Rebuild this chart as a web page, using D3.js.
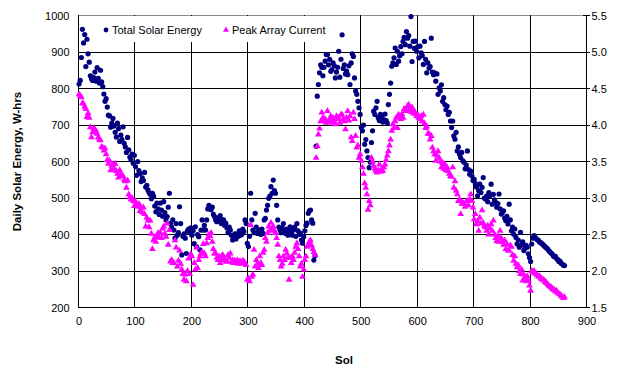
<!DOCTYPE html>
<html>
<head>
<meta charset="utf-8">
<script src="https://cdn.jsdelivr.net/npm/d3@7/dist/d3.min.js"></script>
<style>
  body { margin: 0; background: #fff; }
  svg text { font-family: Arial, "Liberation Sans", sans-serif; }
</style>
</head>
<body>
<svg width="617" height="366"></svg>
<script>
// readings every other sol
const sols = d3.range(1, 862, 2)

// Total Solar Energy, W-hrs (left axis)
const energy = [
  812, 822, 885, 962, 925, 948, 860, 935, 895, 872,
  835, 827, 822, 830, 845, 820, 857, 828, 815, 850,
  818, 805, 785, 765, 772, 749, 727, 725, 694, 705,
  718, 697, 680, 667, 705, 690, 655, 672, 660, 695,
  650, 640, 625, 666, 632, 612, 605, 620, 595, 617,
  586, 562, 600, 575, 567, 545, 555, 548, 570, 530,
  535, 522, 515, 510, 498, 513, 505, 478, 462, 486,
  470, 455, 486, 467, 450, 490, 460, 440, 449, 475,
  513, 430, 420, 440, 412, 390, 430, 398, 405, 476,
  430, 344, 395, 402, 390, 348, 410, 415, 405, 418,
  398, 410, 375, 421, 367, 400, 394, 358, 412, 440,
  412, 425, 412, 440, 470, 480, 472, 468, 475, 455,
  449, 440, 435, 445, 438, 452, 430, 440, 440, 425,
  431, 418, 405, 420, 412, 398, 385, 392, 402, 388,
  402, 395, 410, 398, 400, 415, 408, 440, 430, 376,
  367, 395, 513, 440, 412, 405, 458, 420, 403, 410,
  412, 400, 415, 403, 440, 444, 467, 480, 499, 505,
  531, 513, 549, 520, 513, 480, 440, 420, 412, 405,
  418, 430, 410, 403, 415, 398, 410, 421, 405, 398,
  412, 420, 395, 430, 410, 400, 403, 385, 376, 394,
  410, 425, 431, 458, 465, 467, 440, 431, 330, 342,
  642, 779, 811, 843, 865, 858, 835, 858, 875, 893,
  893, 865, 880, 847, 852, 870, 863, 829, 845, 858,
  902, 831, 880, 947, 855, 865, 840, 848, 838, 862,
  811, 870, 895, 888, 829, 793, 784, 765, 747, 729,
  693, 684, 700, 647, 660, 629, 611, 583, 598, 652,
  684, 738, 729, 747, 765, 720, 712, 729, 720, 708,
  715, 730, 712, 705, 756, 784, 815, 861, 870, 884,
  911, 866, 902, 875, 890, 915, 895, 929, 940, 920,
  956, 938, 945, 916, 997, 874, 929, 910, 930, 902,
  915, 884, 916, 898, 890, 866, 929, 880, 843, 870,
  856, 860, 938, 845, 838, 843, 820, 840, 784, 802,
  793, 810, 765, 775, 756, 742, 752, 729, 735, 711,
  693, 711, 670, 661, 680, 629, 640, 620, 611, 625,
  602, 598, 580, 590, 629, 578, 565, 574, 560, 548,
  551, 540, 530, 506, 520, 538, 515, 529, 556, 500,
  497, 505, 490, 515, 506, 538, 483, 510, 495, 488,
  475, 485, 511, 470, 456, 460, 465, 445, 438, 450,
  429, 483, 440, 410, 420, 401, 415, 392, 374, 385,
  365, 406, 372, 380, 356, 362, 370, 365, 347, 337,
  326, 374, 390, 397, 392, 389, 385, 384, 379, 378,
  375, 372, 369, 366, 363, 361, 356, 353, 349, 347,
  342, 339, 340, 334, 331, 326, 327, 321, 319, 316, 315
]

// Peak Array Current, A (right axis)
const current = [
  4.42, 4.40, 4.38, 4.30, 4.29, 4.25, 4.22, 4.11, 4.16, 4.10,
  3.97, 3.83, 3.90, 3.95, 3.94, 3.92, 3.88, 3.83, 3.80, 3.79,
  3.70, 3.69, 3.65, 3.68, 3.60, 3.52, 3.47, 3.51, 3.38, 3.44,
  3.46, 3.40, 3.47, 3.37, 3.33, 3.28, 3.38, 3.33, 3.30, 3.30,
  3.25, 3.23, 3.14, 3.24, 3.05, 3.01, 2.98, 3.00, 2.96, 2.89,
  2.95, 2.92, 2.88, 2.92, 2.82, 2.87, 2.80, 2.87, 2.78, 2.61,
  2.73, 2.69, 2.60, 2.69, 2.51, 2.30, 2.42, 2.46, 2.40, 2.47,
  2.52, 2.46, 2.52, 2.45, 2.58, 2.61, 2.51, 2.47, 2.65, 2.36,
  2.56, 2.13, 2.15, 2.11, 2.11, 2.42, 2.32, 2.06, 2.14, 2.28,
  2.10, 2.02, 1.96, 1.88, 1.95, 1.86, 2.00, 2.17, 1.96, 2.23,
  2.20, 1.81, 2.11, 2.02, 2.32, 2.04, 2.15, 2.20, 2.24, 2.26,
  2.37, 2.24, 2.20, 2.38, 2.45, 2.50, 2.48, 2.52, 2.40, 2.30,
  2.24, 2.24, 2.18, 2.15, 2.20, 2.11, 2.15, 2.22, 2.20, 2.16,
  2.13, 2.13, 2.22, 2.18, 2.24, 2.12, 2.15, 2.11, 2.14, 2.12,
  2.15, 2.10, 2.13, 2.13, 2.10, 2.14, 2.13, 2.11, 2.08, 1.88,
  1.90, 1.86, 2.63, 1.92, 1.95, 2.29, 2.06, 2.15, 2.10, 2.04,
  2.20, 2.11, 2.08, 2.25, 2.29, 2.45, 2.40, 2.52, 2.61, 2.55,
  2.66, 2.58, 2.61, 2.55, 2.52, 2.45, 2.36, 2.20, 2.15, 2.06,
  2.10, 2.20, 2.15, 2.29, 2.24, 2.18, 1.88, 2.18, 2.11, 2.20,
  2.15, 2.25, 2.33, 2.38, 2.30, 2.20, 2.06, 2.10, 1.92, 2.02,
  2.15, 2.20, 2.33, 2.36, 2.40, 2.42, 2.35, 2.30, 2.26, 2.22,
  3.55, 3.71, 3.87, 3.95, 4.05, 4.17, 4.10, 4.05, 4.08, 4.03,
  4.19, 4.05, 4.08, 4.12, 4.03, 4.10, 4.06, 4.01, 4.12, 4.08,
  4.10, 4.03, 4.14, 4.14, 4.08, 4.05, 3.94, 4.10, 4.19, 4.06,
  4.12, 3.83, 3.78, 4.17, 4.08, 3.85, 3.69, 3.72, 3.55, 3.60,
  3.51, 3.42, 3.33, 3.20, 3.14, 3.05, 2.84, 2.96, 2.90, 3.55,
  3.50, 3.44, 3.40, 3.37, 3.35, 3.38, 3.46, 3.36, 3.40, 3.37,
  3.42, 3.46, 3.52, 3.58, 3.64, 3.72, 3.80, 3.92, 4.01, 3.96,
  4.05, 4.10, 3.96, 4.14, 4.12, 4.08, 4.15, 4.10, 4.22, 4.19,
  4.20, 4.26, 4.28, 4.22, 4.18, 4.24, 4.16, 4.19, 4.15, 4.12,
  4.14, 4.10, 4.08, 4.12, 4.05, 4.14, 4.02, 3.96, 3.98, 3.88,
  3.88, 3.80, 3.85, 3.69, 3.64, 3.60, 3.51, 3.58, 3.64, 3.55,
  3.50, 3.42, 3.48, 3.40, 3.46, 3.38, 3.42, 3.37, 3.33, 3.30,
  3.29, 3.42, 3.14, 3.23, 3.10, 3.05, 2.96, 2.98, 2.78, 2.92,
  2.94, 2.92, 2.88, 2.95, 2.96, 2.90, 2.98, 3.05, 2.96, 2.87,
  2.71, 2.78, 2.64, 2.68, 2.55, 2.73, 2.65, 2.83, 2.66, 2.62,
  2.60, 2.55, 2.62, 2.50, 2.58, 2.64, 2.55, 2.69, 2.50, 2.45,
  2.41, 2.48, 2.40, 2.55, 2.45, 2.40, 2.36, 2.42, 2.30, 2.37,
  2.28, 2.28, 2.35, 2.33, 2.22, 2.14, 2.20, 2.10, 2.05, 2.08,
  2.00, 1.96, 2.02, 1.87, 1.95, 1.91, 1.86, 1.93, 1.87, 1.80,
  1.73, 2.00, 1.98, 2.00, 1.97, 1.96, 1.94, 1.92, 1.93, 1.90,
  1.89, 1.88, 1.87, 1.85, 1.84, 1.82, 1.80, 1.79, 1.78, 1.76,
  1.75, 1.74, 1.72, 1.73, 1.70, 1.69, 1.68, 1.66, 1.65, 1.63, 1.64
]

const xTicks = [0, 100, 200, 300, 400, 500, 600, 700, 800, 900]
const yLeftTicks = [200, 300, 400, 500, 600, 700, 800, 900, 1000]
const yRightTicks = [1.5, 2.0, 2.5, 3.0, 3.5, 4.0, 4.5, 5.0, 5.5]
const seriesNames = ["Total Solar Energy", "Peak Array Current"]

const svg = d3.select("svg")
// pixel centres of the plot frame
const plotL = 78.5, plotR = 586.5, plotT = 15.5, plotB = 307.5

const x = d3.scaleLinear().domain([0, 900]).range([plotL, plotR])
const yL = d3.scaleLinear().domain([200, 1000]).range([plotB, plotT])
const yR = d3.scaleLinear().domain([1.5, 5.5]).range([plotB, plotT])

svg.append("rect").attr("width", 617).attr("height", 366).attr("fill", "#fff")

// rules are drawn as 1px filled rects so they sit on whole pixels
const hRule = (g, yv, x0, x1, color) => g.append("rect")
    .attr("x", Math.floor(x0)).attr("y", Math.floor(yv))
    .attr("width", Math.floor(x1) - Math.floor(x0) + 1).attr("height", 1)
    .attr("fill", color)
const vRule = (g, xv, y0, y1, color) => g.append("rect")
    .attr("x", Math.floor(xv)).attr("y", Math.floor(y0))
    .attr("width", 1).attr("height", Math.floor(y1) - Math.floor(y0) + 1)
    .attr("fill", color)

const rules = svg.append("g")
hRule(rules, plotT, plotL, plotR, "#888")
yLeftTicks.slice(1, -1).forEach(d => hRule(rules, yL(d), plotL, plotR, "#000"))
xTicks.slice(1, -1).forEach(d => vRule(rules, x(d), plotT, plotB, "#000"))

// legend box covers the grid
svg.append("rect")
    .attr("x", 90).attr("y", 16).attr("width", 250).attr("height", 26)
    .attr("fill", "#fff")

// axis lines
const axes = svg.append("g")
hRule(axes, plotB, plotL, plotR, "#000")
vRule(axes, plotL, plotT, plotB, "#000")
vRule(axes, plotR, plotT, plotB, "#000")
yRightTicks.forEach(d => hRule(axes, yR(d), plotR - 3, plotR + 3, "#000"))

// tick labels
const fontSize = 11
svg.append("g")
    .attr("transform", `translate(0,${plotB})`)
    .call(d3.axisBottom(x).tickValues(xTicks).tickSize(0).tickPadding(10).tickSizeOuter(0))
    .call(g => g.select(".domain").remove())

svg.append("g")
    .attr("transform", `translate(${plotL},0)`)
    .call(d3.axisLeft(yL).tickValues(yLeftTicks).tickFormat(d3.format("d")).tickSize(0).tickPadding(9).tickSizeOuter(0))
    .call(g => g.select(".domain").remove())

svg.append("g")
    .attr("transform", `translate(${plotR},0)`)
    .call(d3.axisRight(yR).tickValues(yRightTicks).tickFormat(d3.format(".1f")).tickSize(0).tickPadding(5).tickSizeOuter(0))
    .call(g => g.select(".domain").remove())

svg.selectAll(".tick line").remove()
svg.selectAll(".tick text")
    .attr("font-size", fontSize)
    .attr("font-family", "Arial, 'Liberation Sans', sans-serif")
    .attr("fill", "#000")

// series: energy circles, then current triangles on top
svg.append("g").selectAll("circle")
    .data(sols.map((s, i) => [s, energy[i]]))
    .join("circle")
    .attr("cx", d => x(d[0]))
    .attr("cy", d => yL(d[1]))
    .attr("r", 2.6)
    .attr("fill", "#000080")

const tri = d3.symbol().type(d3.symbolTriangle).size(20)
svg.append("g").selectAll("path")
    .data(sols.map((s, i) => [s, current[i]]))
    .join("path")
    .attr("d", tri)
    .attr("transform", d => `translate(${x(d[0])},${yR(d[1])})`)
    .attr("fill", "#ff00ff")

// legend
const legend = svg.append("g").attr("font-size", fontSize)
legend.append("circle").attr("cx", 106).attr("cy", 30).attr("r", 2.4).attr("fill", "#000080")
legend.append("text").attr("x", 112).attr("y", 34).text(seriesNames[0])
legend.append("path").attr("d", d3.symbol().type(d3.symbolTriangle).size(16))
    .attr("transform", "translate(226,30)").attr("fill", "#ff00ff")
legend.append("text").attr("x", 232).attr("y", 34).text(seriesNames[1])

// axis titles
svg.append("text")
    .attr("transform", `translate(21,${(plotT + plotB) / 2}) rotate(-90)`)
    .attr("text-anchor", "middle")
    .attr("font-size", 11.5).attr("font-weight", "bold")
    .text("Daily Solar Energy, W-hrs")

svg.append("text")
    .attr("x", 344).attr("y", 364)
    .attr("text-anchor", "middle")
    .attr("font-size", 11.5).attr("font-weight", "bold")
    .text("Sol")
</script>
</body>
</html>
